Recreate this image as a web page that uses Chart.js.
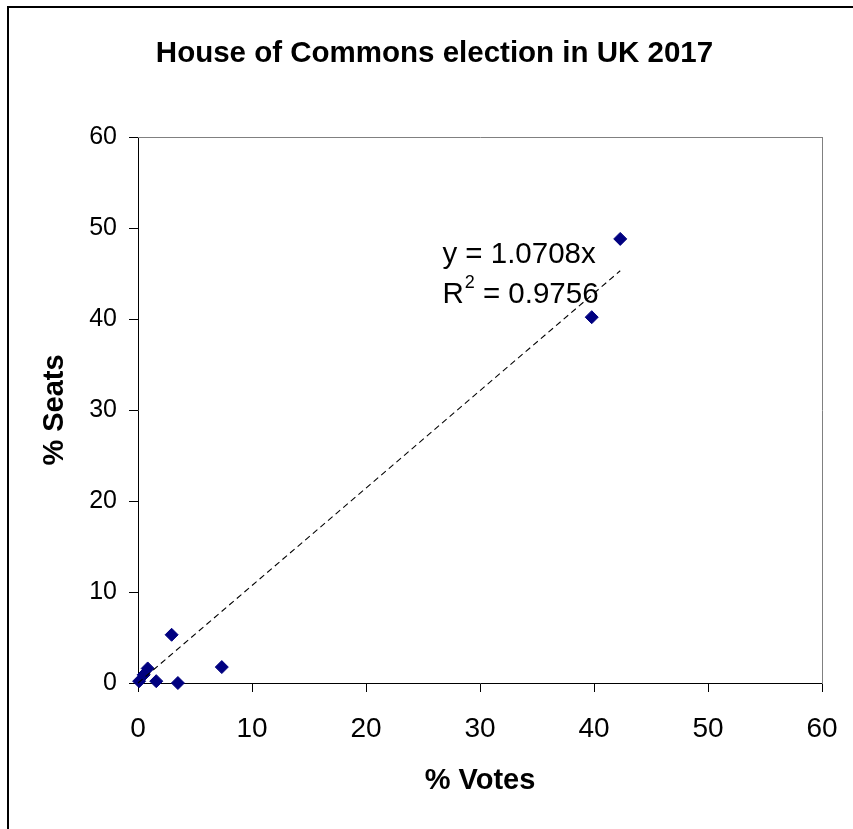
<!DOCTYPE html>
<html><head><meta charset="utf-8">
<script src="https://cdn.jsdelivr.net/npm/chart.js@4"></script>
<style>html,body{margin:0;padding:0;overflow:hidden;background:#fff}canvas{display:block}</style>
</head><body>
<canvas id="c" width="869" height="829"></canvas>
<script>
const chartTitle = 'House of Commons election in UK 2017';
const xTitle = '% Votes';
const yTitle = '% Seats';
const votes = [42.3, 39.8, 2.95, 7.35, 3.5, 1.6, 0.85, 0.5, 0.1];
const seats = [48.8, 40.2, 5.3, 1.75, 0.0, 0.2, 1.6, 0.9, 0.2];
const trendVotes = [0, 42.3];
const trendSeats = [0, 45.3];
const tickValues = [0, 10, 20, 30, 40, 50, 60];
const eqText = 'y = 1.0708x';
const r2Text = ' = 0.9756';

const FONT = "'Liberation Sans', Arial, sans-serif";

const frame = {
  id: 'frame',
  beforeDraw(chart) {
    const ctx = chart.ctx;
    ctx.save();
    ctx.fillStyle = '#fff';
    ctx.fillRect(0, 0, chart.width, chart.height);
    ctx.fillStyle = '#000';
    ctx.fillRect(7, 6, 2, chart.height);
    ctx.fillRect(7, 6, chart.width, 2);
    ctx.restore();
  }
};

const annot = {
  id: 'annot',
  afterDatasetsDraw(chart) {
    const { ctx, scales: { x, y } } = chart;
    ctx.save();
    ctx.fillStyle = '#000';
    ctx.textAlign = 'left';
    ctx.textBaseline = 'alphabetic';
    ctx.font = '29.5px ' + FONT;
    const px = x.getPixelForValue(26.7);
    ctx.fillText(eqText, px, y.getPixelForValue(46.1));
    const by = y.getPixelForValue(41.8);
    ctx.fillText('R', px, by);
    const rw = ctx.measureText('R').width;
    ctx.font = '18px ' + FONT;
    ctx.fillText('2', px + rw + 1, by - 15);
    const sw = ctx.measureText('2').width;
    ctx.font = '29.5px ' + FONT;
    ctx.fillText(r2Text, px + rw + 1 + sw, by);
    ctx.restore();
  }
};

const setTicks = s => { s.ticks = tickValues.map(v => ({ value: v })); };

new Chart(document.getElementById('c'), {
  type: 'scatter',
  data: {
    datasets: [
      {
        data: trendVotes.map((v, i) => ({ x: v, y: trendSeats[i] })),
        showLine: true,
        borderColor: '#000',
        borderWidth: 1.1,
        borderDash: [6, 4],
        pointRadius: 0,
        fill: false,
        clip: false
      },
      {
        data: votes.map((v, i) => ({ x: v, y: seats[i] })),
        pointStyle: 'rectRot',
        pointRadius: 6.5,
        pointHoverRadius: 6.5,
        borderWidth: 1,
        backgroundColor: '#000080',
        borderColor: '#000080',
        clip: false
      }
    ]
  },
  options: {
    responsive: false,
    animation: false,
    devicePixelRatio: 1,
    events: [],
    layout: { padding: 0 },
    plugins: {
      legend: { display: false },
      tooltip: { enabled: false },
      title: {
        display: true,
        text: chartTitle,
        color: '#000',
        font: { family: FONT, size: 29.5, weight: 'bold', lineHeight: 1.2 },
        padding: { top: 36, bottom: 65.6 }
      }
    },
    scales: {
      x: {
        type: 'linear', position: 'bottom', min: 0, max: 60,
        afterBuildTicks: setTicks,
        afterFit: s => { s.height = 146; },
        grid: { display: true, drawOnChartArea: false, drawTicks: true, tickLength: 9, color: '#000', lineWidth: 1 },
        border: { display: true, color: '#000', width: 1 },
        ticks: { color: '#000', font: { family: FONT, size: 28 }, padding: 20, maxRotation: 0 },
        title: { display: true, text: xTitle, color: '#000', font: { family: FONT, size: 29, weight: 'bold', lineHeight: 1.2 }, padding: { top: 0, bottom: 31 } }
      },
      y: {
        type: 'linear', position: 'left', min: 0, max: 60,
        afterBuildTicks: setTicks,
        afterFit: s => { s.width = 138; },
        grid: { display: true, drawOnChartArea: false, drawTicks: true, tickLength: 9, color: '#000', lineWidth: 1 },
        border: { display: true, color: '#000', width: 1 },
        ticks: { color: '#000', font: { family: FONT, size: 25 }, padding: 12 },
        title: { display: true, text: yTitle, color: '#000', font: { family: FONT, size: 29, weight: 'bold', lineHeight: 1.2 }, padding: { top: 38, bottom: 0 } }
      },
      x2: {
        type: 'linear', position: 'top', min: 0, max: 1,
        grid: { display: false },
        ticks: { display: false },
        border: { display: true, color: '#808080', width: 1 },
        afterFit: s => { s.height = 0; }
      },
      y2: {
        type: 'linear', position: 'right', min: 0, max: 1,
        grid: { display: false },
        ticks: { display: false },
        border: { display: true, color: '#808080', width: 1 },
        afterFit: s => { s.width = 47; }
      }
    }
  },
  plugins: [frame, annot]
});
</script>
</body></html>
